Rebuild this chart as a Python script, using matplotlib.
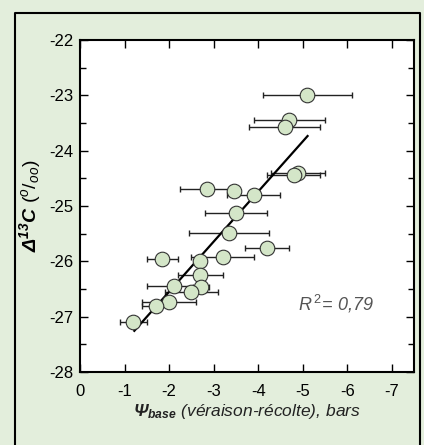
import numpy as np
import matplotlib.pyplot as plt
from matplotlib.lines import Line2D
from matplotlib.ticker import MultipleLocator

plt.rcParams['font.family'] = ['Liberation Sans', 'DejaVu Sans']
plt.rcParams['axes.unicode_minus'] = False
plt.rcParams['mathtext.fontset'] = 'custom'
plt.rcParams['mathtext.rm'] = 'Liberation Sans'
plt.rcParams['mathtext.it'] = 'Liberation Sans:italic'
plt.rcParams['mathtext.bf'] = 'Liberation Sans:bold:italic'

# Psi base (bars), delta 13C, and x error half-widths
psi = [-5.1, -4.7, -4.6, -4.9, -4.8, -2.85, -3.46, -3.9, -3.5, -3.35, -4.2,
       -1.85, -3.2, -2.7, -2.7, -2.1, -2.72, -2.5, -2.0, -1.7, -1.2]
d13c = [-23.0, -23.45, -23.57, -24.4, -24.44, -24.69, -24.73, -24.81, -25.12,
        -25.49, -25.75, -25.96, -25.93, -25.99, -26.24, -26.44, -26.46, -26.56,
        -26.73, -26.8, -27.1]
psi_err = [1.0, 0.8, 0.8, 0.6, 0.6, 0.6, 0.05, 0.6, 0.7, 0.9, 0.5,
           0.35, 0.7, 0.1, 0.5, 0.6, 0.18, 0.6, 0.6, 0.3, 0.3]

# droite de regression
pente = -0.905
ordonnee = -28.36
r2_texte = '0,79'

fig = plt.figure(figsize=(4.24, 4.45), dpi=100)
fig.patch.set_facecolor('#e3eedc')
# cadre noir (gauche, haut, droite)
xg, xd, yh = 15 / 424, 420 / 424, 1 - 13 / 445
fig.add_artist(Line2D([xg, xg, xd, xd], [0, yh, yh, 0],
                      transform=fig.transFigure, color='black', linewidth=1.5))

ax = fig.add_axes([80 / 424, 1 - 372 / 445, 334 / 424, 332 / 445])
ax.set_facecolor('white')

ax.errorbar(psi, d13c, xerr=psi_err, fmt='none', ecolor='#222222',
            elinewidth=1.0, capsize=2.5, capthick=1.0, zorder=2)
ax.plot(psi, d13c, 'o', markersize=10.5, markerfacecolor='#d4e6c8',
        markeredgecolor='#333333', markeredgewidth=0.8, zorder=4)

xfit = np.array([max(psi) - 0.02, min(psi) - 0.01])
ax.plot(xfit, pente * xfit + ordonnee, color='black', linewidth=1.6, zorder=3)

ax.set_xlim(0, -7.5)
ax.set_ylim(-28, -22)
ax.yaxis.set_major_locator(MultipleLocator(1))
ax.yaxis.set_minor_locator(MultipleLocator(0.5))
ax.set_xticks(np.arange(0, -8, -1))
ax.set_xticklabels(['0', '-1', '-2', '-3', '-4', '-5', '-6', '-7'])

ax.tick_params(axis='both', which='both', direction='in', top=True, right=True,
               labelsize=12, width=1.0)
ax.tick_params(axis='both', which='major', length=6)
ax.tick_params(axis='both', which='minor', length=4)
ax.tick_params(axis='x', pad=9)
ax.tick_params(axis='y', pad=5)
for s in ax.spines.values():
    s.set_linewidth(1.5)

ax.set_ylabel(r'$\mathbf{\Delta^{13}C}$ $(^{o}/_{oo})$', fontsize=14,
              labelpad=4)
ax.set_xlabel(r'$\mathbf{\Psi_{base}}$ (véraison-récolte), bars', fontsize=12.5,
              style='italic', color='#222222', labelpad=2)

ax.text(-4.9, -26.88, r'$R^{\,2}$= ' + r2_texte, fontsize=13, style='italic',
        color='#555555', ha='left', va='baseline')

fig.savefig('out.png', dpi=100, facecolor=fig.get_facecolor())
